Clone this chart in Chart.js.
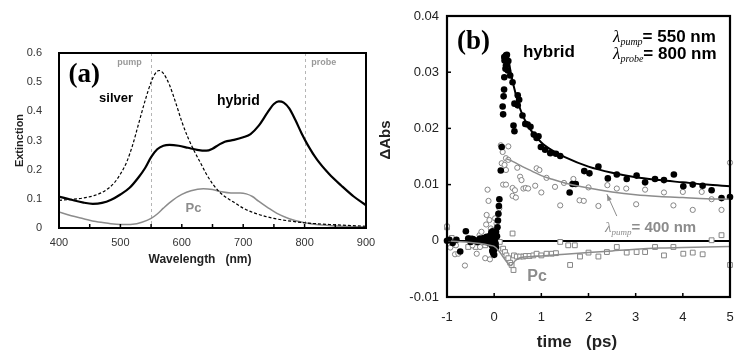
<!DOCTYPE html>
<html>
<head>
<meta charset="utf-8">
<script src="https://cdn.jsdelivr.net/npm/chart.js@4.4.0/dist/chart.umd.min.js"></script>
<style>
  html, body { margin: 0; padding: 0; background: #fff; }
  #wrap { position: relative; width: 742px; height: 352px; overflow: hidden; }
  #chartA { position: absolute; left: 0; top: 0; }
  #chartB { position: absolute; left: 371px; top: 0; }
</style>
</head>
<body>
<div id="wrap">
  <canvas id="chartA" width="380" height="352"></canvas>
  <canvas id="chartB" width="371" height="352"></canvas>
</div>
<script>
// ---- panel (a): extinction spectra ----
const wlHybrid  = [400, 420, 440, 455, 470, 485, 500, 515, 530, 540, 550, 560, 570, 580, 595, 610, 625, 640, 650, 660, 670, 685, 700, 712, 725, 740, 750, 758, 766, 775, 785, 795, 805, 820, 840, 860, 880, 900];
const extHybrid = [0.108, 0.097, 0.087, 0.083, 0.086, 0.097, 0.115, 0.138, 0.175, 0.205, 0.243, 0.270, 0.282, 0.285, 0.282, 0.275, 0.268, 0.265, 0.272, 0.285, 0.296, 0.302, 0.311, 0.322, 0.350, 0.397, 0.425, 0.434, 0.430, 0.410, 0.370, 0.325, 0.285, 0.235, 0.185, 0.145, 0.108, 0.078];

const wlSilver  = [400, 420, 440, 460, 475, 490, 500, 510, 520, 530, 540, 550, 557, 563, 570, 580, 590, 600, 610, 620, 630, 640, 650, 660, 670, 685, 700, 720, 750, 800, 850, 900];
const extSilver = [0.095, 0.098, 0.103, 0.113, 0.128, 0.155, 0.185, 0.225, 0.285, 0.360, 0.435, 0.500, 0.530, 0.540, 0.530, 0.490, 0.430, 0.365, 0.310, 0.265, 0.225, 0.185, 0.152, 0.126, 0.108, 0.088, 0.068, 0.050, 0.033, 0.018, 0.011, 0.006];

const wlPc  = [400, 420, 440, 460, 480, 500, 520, 535, 550, 560, 570, 585, 600, 615, 635, 650, 665, 680, 695, 705, 715, 725, 740, 755, 775, 800, 830, 860, 900];
const extPc = [0.055, 0.042, 0.032, 0.022, 0.016, 0.012, 0.013, 0.020, 0.033, 0.048, 0.068, 0.095, 0.115, 0.128, 0.135, 0.132, 0.124, 0.120, 0.120, 0.117, 0.108, 0.092, 0.070, 0.050, 0.032, 0.018, 0.010, 0.006, 0.004];

const pumpProbeNm = [550, 800];

// ---- panel (b): transient absorption ----
const t550   = [-1.0, -0.95, -0.88, -0.8, -0.72, -0.6, -0.55, -0.5, -0.45, -0.4, -0.35, -0.3, -0.26, -0.22, -0.19, -0.16, -0.13, -0.11, -0.09, -0.07, -0.06, -0.05, -0.04, -0.04, -0.03, -0.03, -0.02, -0.02, -0.01, -0.01, 0.0, 0.0, 0.01, 0.02, 0.02, 0.03, 0.04, 0.04, 0.06, 0.07, 0.08, 0.09, 0.1, 0.11, 0.14, 0.16, 0.18, 0.19, 0.2, 0.21, 0.215, 0.215, 0.22, 0.24, 0.25, 0.25, 0.27, 0.29, 0.3, 0.34, 0.39, 0.41, 0.43, 0.43, 0.5, 0.5, 0.53, 0.6, 0.66, 0.71, 0.77, 0.84, 0.9, 0.94, 0.99, 1.08, 1.19, 1.31, 1.4, 1.6, 1.66, 1.73, 1.91, 2.02, 2.21, 2.41, 2.6, 2.81, 3.02, 3.2, 3.41, 3.6, 3.81, 4.01, 4.21, 4.42, 4.61, 4.82, 5.0];
const abs550 = [0.0, 0.0002, -0.0004, 0.0002, -0.0019, 0.0017, 0.0004, -0.0002, 0.0003, 0.0001, -0.0002, 0.0004, 0.0001, 0.0005, -0.0002, 0.0007, 0.0002, -0.0004, 0.0009, 0.0003, 0.0015, -0.0008, 0.0013, -0.0018, 0.0002, 0.0017, -0.0013, -0.0022, 0.0006, 0.0012, -0.0016, -0.0025, 0.0011, 0.0003, 0.0015, -0.0005, 0.0016, -0.0012, 0.0008, 0.0024, 0.0036, 0.0048, 0.0062, 0.0074, 0.0125, 0.0167, 0.0239, 0.0225, 0.0257, 0.0269, 0.0291, 0.0327, 0.0321, 0.0306, 0.0330, 0.0312, 0.0331, 0.0303, 0.0320, 0.0294, 0.0282, 0.0205, 0.0195, 0.0244, 0.0259, 0.0241, 0.0251, 0.0223, 0.0208, 0.0207, 0.0203, 0.0189, 0.0183, 0.0186, 0.0167, 0.0162, 0.0156, 0.0155, 0.0151, 0.0086, 0.0101, 0.0101, 0.0124, 0.0120, 0.0132, 0.0111, 0.0118, 0.0110, 0.0116, 0.0104, 0.0110, 0.0108, 0.0118, 0.0097, 0.0100, 0.0098, 0.0090, 0.0076, 0.0078];

const t400   = [-1.0, -0.93, -0.83, -0.81, -0.76, -0.62, -0.51, -0.46, -0.37, -0.31, -0.3, -0.27, -0.19, -0.17, -0.16, -0.14, -0.12, -0.1, -0.09, -0.07, -0.02, 0.02, 0.05, 0.09, 0.11, 0.14, 0.16, 0.18, 0.19, 0.22, 0.25, 0.25, 0.25, 0.3, 0.3, 0.39, 0.39, 0.44, 0.46, 0.49, 0.55, 0.58, 0.62, 0.67, 0.72, 0.87, 0.9, 0.96, 1.0, 1.11, 1.29, 1.4, 1.48, 1.68, 1.81, 1.9, 2.0, 2.21, 2.4, 2.6, 2.8, 3.01, 3.2, 3.6, 3.8, 4.0, 4.21, 4.4, 4.61, 4.82, 5.0];
const abs400 = [0.0026, -0.0012, -0.0024, -0.0008, -0.0023, -0.0044, 0.0004, -0.0008, -0.0023, 0.0010, -0.0011, 0.0016, -0.0031, 0.0029, 0.0046, 0.0091, 0.0071, 0.0037, -0.0033, 0.0022, 0.0019, 0.0040, 0.0031, 0.0047, 0.0058, 0.0170, 0.0138, 0.0158, 0.0100, 0.0135, 0.0147, 0.0126, 0.0100, 0.0168, 0.0144, 0.0094, 0.0080, 0.0090, 0.0077, 0.0130, 0.0114, 0.0108, 0.0093, 0.0094, 0.0093, 0.0098, 0.0129, 0.0126, 0.0086, 0.0112, 0.0096, 0.0063, 0.0103, 0.0110, 0.0072, 0.0071, 0.0095, 0.0062, 0.0099, 0.0093, 0.0093, 0.0065, 0.0091, 0.0086, 0.0063, 0.0087, 0.0055, 0.0087, 0.0074, 0.0055, 0.0139];

const tPc   = [-1.0, -0.9, -0.85, -0.55, -0.51, -0.44, -0.39, -0.34, -0.24, -0.19, -0.12, 0.12, 0.19, 0.23, 0.26, 0.3, 0.34, 0.37, 0.39, 0.41, 0.42, 0.48, 0.55, 0.62, 0.67, 0.75, 0.83, 0.9, 1.0, 1.11, 1.22, 1.31, 1.4, 1.57, 1.61, 1.71, 1.82, 2.0, 2.21, 2.39, 2.6, 2.81, 3.02, 3.2, 3.41, 3.6, 3.8, 4.01, 4.21, 4.42, 4.61, 4.82, 5.0];
const absPc = [0.0024, 0.0005, -0.0007, -0.0011, 0.0005, -0.0008, -0.0011, -0.0003, 0.0001, -0.0008, 0.0002, -0.0002, -0.0014, -0.0020, -0.0026, -0.0031, -0.0039, -0.0043, 0.0013, -0.0052, -0.0026, -0.0028, -0.0028, -0.0028, -0.0027, -0.0027, -0.0026, -0.0023, -0.0026, -0.0023, -0.0023, -0.0022, -0.0002, -0.0008, -0.0043, -0.0008, -0.0028, -0.0021, -0.0028, -0.0020, -0.0011, -0.0021, -0.0020, -0.0020, -0.0011, -0.0026, -0.0011, -0.0023, -0.0021, -0.0024, 0.0001, 0.0010, -0.0043];

const tFit550 = [0.29, 0.35, 0.43, 0.5, 0.6, 0.75, 1.0, 1.25, 1.5, 2.0, 2.5, 3.0, 3.5, 4.0, 4.5, 5.0];
const fit550  = [0.0331, 0.0300, 0.0270, 0.0248, 0.0224, 0.0200, 0.0175, 0.0160, 0.0149, 0.0132, 0.0121, 0.0113, 0.0108, 0.0104, 0.0100, 0.0097];
const tFit400 = [0.26, 0.4, 0.6, 0.8, 1.0, 1.25, 1.5, 2.0, 2.5, 3.0, 3.5, 4.0, 4.5, 5.0];
const fit400  = [0.0146, 0.0141, 0.0132, 0.0124, 0.0116, 0.0109, 0.0103, 0.0094, 0.0087, 0.0082, 0.0079, 0.0077, 0.0075, 0.0074];
const tFitPc  = [-1.0, -0.6, -0.3, -0.1, 0.0, 0.1, 0.2, 0.3, 0.35, 0.45, 0.55, 0.8, 1.0, 1.5, 2.0, 2.5, 3.0, 3.5, 4.0, 4.5, 5.0];
const fitPc   = [0.0, -0.0002, -0.0005, -0.0008, -0.0010, -0.0018, -0.0030, -0.0041, -0.0044, -0.0035, -0.0030, -0.0028, -0.0027, -0.0024, -0.0021, -0.0018, -0.0015, -0.0013, -0.0012, -0.0011, -0.0010];

const pts = (xs, ys) => xs.map((x, i) => ({ x: x, y: ys[i] }));

const SANS = '"Liberation Sans", Arial, sans-serif';
const SERIF = '"Liberation Serif", "Times New Roman", serif';

function drawText(ctx, text, x, y, font, color, rot) {
  ctx.save();
  ctx.font = font;
  ctx.fillStyle = color;
  ctx.textAlign = 'center';
  ctx.textBaseline = 'middle';
  ctx.translate(x, y);
  if (rot) ctx.rotate(rot);
  ctx.fillText(text, 0, 0);
  ctx.restore();
}

// λ with italic subscript followed by bold text
function drawLambda(ctx, x, y, sub, rest, color, size) {
  ctx.save();
  ctx.fillStyle = color;
  ctx.textBaseline = 'alphabetic';
  ctx.textAlign = 'left';
  const base = y + size * 0.36;
  ctx.font = 'italic ' + size + 'px ' + SERIF;
  ctx.fillText('λ', x, base);
  x += ctx.measureText('λ').width;
  ctx.font = 'italic ' + Math.round(size * 0.6) + 'px ' + SERIF;
  ctx.fillText(sub, x, base + 3);
  x += ctx.measureText(sub).width;
  ctx.font = 'bold ' + size + 'px ' + SANS;
  ctx.fillText(rest, x, base);
  ctx.restore();
}

function drawFrame(ctx, a, w) {
  ctx.save();
  ctx.strokeStyle = '#000';
  ctx.lineWidth = w;
  ctx.strokeRect(a.left, a.top, a.right - a.left, a.bottom - a.top);
  ctx.restore();
}

const panelA = {
  id: 'panelA',
  beforeDatasetsDraw(chart) {
    const { ctx, chartArea: a, scales: { x } } = chart;
    ctx.save();
    ctx.strokeStyle = '#b5b5b5';
    ctx.lineWidth = 1;
    ctx.setLineDash([3, 3]);
    pumpProbeNm.forEach(v => {
      const px = Math.round(x.getPixelForValue(v)) + 0.5;
      ctx.beginPath();
      ctx.moveTo(px, a.top);
      ctx.lineTo(px, a.bottom);
      ctx.stroke();
    });
    ctx.restore();
  },
  afterDraw(chart) {
    const { ctx, chartArea: a, scales: { x, y } } = chart;
    drawFrame(ctx, a, 2);
    // small inner ticks on the wavelength axis
    ctx.save();
    ctx.strokeStyle = '#000';
    ctx.lineWidth = 1.5;
    for (let v = 450; v < 900; v += 50) {
      const px = x.getPixelForValue(v);
      ctx.beginPath();
      ctx.moveTo(px, a.bottom);
      ctx.lineTo(px, a.bottom - 4);
      ctx.stroke();
    }
    ctx.restore();
    drawText(ctx, 'Wavelength   (nm)', 200, 260, 'bold 12px ' + SANS, '#222');
    drawText(ctx, '(a)', x.getPixelForValue(441), y.getPixelForValue(0.524), 'bold 27px ' + SERIF, '#000');
    drawText(ctx, 'pump', x.getPixelForValue(515), y.getPixelForValue(0.566), 'bold 9px ' + SANS, '#999');
    drawText(ctx, 'probe', x.getPixelForValue(831), y.getPixelForValue(0.566), 'bold 9px ' + SANS, '#999');
    drawText(ctx, 'silver', x.getPixelForValue(493), y.getPixelForValue(0.445), 'bold 13px ' + SANS, '#000');
    drawText(ctx, 'hybrid', x.getPixelForValue(692), y.getPixelForValue(0.435), 'bold 14px ' + SANS, '#000');
    drawText(ctx, 'Pc', x.getPixelForValue(619), y.getPixelForValue(0.068), 'bold 13px ' + SANS, '#8c8c8c');
  }
};

new Chart(document.getElementById('chartA'), {
  type: 'line',
  data: {
    datasets: [
      { label: 'hybrid', data: pts(wlHybrid, extHybrid), borderColor: '#000', borderWidth: 2.2, pointRadius: 0, cubicInterpolationMode: 'monotone' },
      { label: 'silver', data: pts(wlSilver, extSilver), borderColor: '#000', borderWidth: 1.2, borderDash: [3, 2], pointRadius: 0, cubicInterpolationMode: 'monotone' },
      { label: 'Pc', data: pts(wlPc, extPc), borderColor: '#8c8c8c', borderWidth: 1.5, pointRadius: 0, cubicInterpolationMode: 'monotone' }
    ]
  },
  options: {
    responsive: false,
    animation: false,
    layout: { padding: { top: 53, right: 14, left: 0, bottom: 0 } },
    plugins: { legend: { display: false }, tooltip: { enabled: false } },
    scales: {
      x: {
        type: 'linear', min: 400, max: 900,
        grid: { display: false }, border: { display: false },
        ticks: { stepSize: 100, padding: 0, color: '#333', font: { family: SANS, size: 11 } },
        afterFit(s) { s.height = 124; s.paddingLeft = 0; s.paddingRight = 0; }
      },
      y: {
        min: 0, max: 0.6,
        grid: { display: false }, border: { display: false },
        ticks: { stepSize: 0.1, padding: 9, color: '#333', font: { family: SANS, size: 11 },
          callback: v => (Math.round(v * 10) / 10).toString() },
        title: { display: true, text: 'Extinction', color: '#222', font: { family: SANS, size: 11, weight: 'bold' }, padding: { top: 13, bottom: 0 } },
        afterFit(s) { s.width = 59; }
      }
    }
  },
  plugins: [panelA]
});

const panelB = {
  id: 'panelB',
  afterDraw(chart) {
    const { ctx, chartArea: a, scales: { x, y } } = chart;
    drawFrame(ctx, a, 2.2);
    ctx.save();
    ctx.strokeStyle = '#000';
    ctx.lineWidth = 1.5;
    for (let v = 0; v < 5; v++) {
      const px = x.getPixelForValue(v);
      ctx.beginPath(); ctx.moveTo(px, a.bottom); ctx.lineTo(px, a.bottom - 4); ctx.stroke();
    }
    for (let v = 0; v < 4; v++) {
      const py = y.getPixelForValue(v / 100);
      ctx.beginPath(); ctx.moveTo(a.left, py); ctx.lineTo(a.left + 4, py); ctx.stroke();
    }
    // arrow to the 400 nm fit
    const x0 = x.getPixelForValue(2.6), y0 = y.getPixelForValue(0.0044);
    const x1 = x.getPixelForValue(2.39), y1 = y.getPixelForValue(0.0083);
    ctx.strokeStyle = '#8c8c8c';
    ctx.fillStyle = '#8c8c8c';
    ctx.lineWidth = 1;
    ctx.beginPath(); ctx.moveTo(x0, y0); ctx.lineTo(x1, y1); ctx.stroke();
    const ang = Math.atan2(y1 - y0, x1 - x0);
    ctx.beginPath();
    ctx.moveTo(x1, y1);
    ctx.lineTo(x1 - 7 * Math.cos(ang - 0.35), y1 - 7 * Math.sin(ang - 0.35));
    ctx.lineTo(x1 - 7 * Math.cos(ang + 0.35), y1 - 7 * Math.sin(ang + 0.35));
    ctx.closePath(); ctx.fill();
    ctx.restore();

    drawText(ctx, 'time   (ps)', 206, 342, 'bold 17px ' + SANS, '#222');
    drawText(ctx, 'ΔAbs', 15, 140, 'bold 15px ' + SANS, '#222', -Math.PI / 2);
    drawText(ctx, '(b)', x.getPixelForValue(-0.44), y.getPixelForValue(0.0353), 'bold 27px ' + SERIF, '#000');
    drawText(ctx, 'hybrid', x.getPixelForValue(1.16), y.getPixelForValue(0.0335), 'bold 17px ' + SANS, '#000');
    drawText(ctx, 'Pc', x.getPixelForValue(0.91), y.getPixelForValue(-0.0063), 'bold 16px ' + SANS, '#8c8c8c');
    drawLambda(ctx, x.getPixelForValue(2.52), y.getPixelForValue(0.0364), 'pump', '= 550 nm', '#000', 17);
    drawLambda(ctx, x.getPixelForValue(2.52), y.getPixelForValue(0.0334), 'probe', '= 800 nm', '#000', 17);
    drawLambda(ctx, x.getPixelForValue(2.35), y.getPixelForValue(0.0026), 'pump', '= 400 nm', '#8c8c8c', 15);
  }
};

new Chart(document.getElementById('chartB'), {
  type: 'scatter',
  data: {
    datasets: [
      { label: 'fit 550', type: 'line', data: pts(tFit550, fit550), borderColor: '#000', borderWidth: 2, pointRadius: 0, cubicInterpolationMode: 'monotone', order: 0 },
      { label: 'fit 400', type: 'line', data: pts(tFit400, fit400), borderColor: '#8c8c8c', borderWidth: 1.5, pointRadius: 0, cubicInterpolationMode: 'monotone', order: 0 },
      { label: 'fit Pc', type: 'line', data: pts(tFitPc, fitPc), borderColor: '#8c8c8c', borderWidth: 1.5, pointRadius: 0, cubicInterpolationMode: 'monotone', order: 0 },
      { label: 'hybrid 550', data: pts(t550, abs550), backgroundColor: '#000', borderColor: '#000', borderWidth: 0, pointRadius: 3.3, clip: 6, order: 1 },
      { label: 'hybrid 400', data: pts(t400, abs400), backgroundColor: '#fff', borderColor: '#858585', borderWidth: 1, pointRadius: 2.6, clip: 6, order: 2 },
      { label: 'Pc', data: pts(tPc, absPc), pointStyle: 'rect', backgroundColor: '#fff', borderColor: '#858585', borderWidth: 1, pointRadius: 3.4, clip: 6, order: 3 }
    ]
  },
  options: {
    responsive: false,
    animation: false,
    layout: { padding: { top: 16, right: 12, left: 0, bottom: 0 } },
    plugins: { legend: { display: false }, tooltip: { enabled: false } },
    scales: {
      x: {
        type: 'linear', min: -1, max: 5,
        grid: { display: false }, border: { display: false },
        ticks: { stepSize: 1, padding: 5, color: '#222', font: { family: SANS, size: 13 } },
        afterFit(s) { s.height = 55; s.paddingLeft = 0; s.paddingRight = 0; }
      },
      y: {
        min: -0.01, max: 0.04,
        border: { display: false },
        grid: { drawTicks: false, lineWidth: 2, color: c => (c.tick && Math.abs(c.tick.value) < 1e-9) ? '#000' : 'transparent' },
        ticks: { stepSize: 0.01, padding: 8, color: '#222', font: { family: SANS, size: 13 },
          callback: v => { const r = Math.round(v * 100) / 100; return r === 0 ? '0' : r.toFixed(2); } },
        afterFit(s) { s.width = 76; }
      }
    }
  },
  plugins: [panelB]
});
</script>
</body>
</html>
